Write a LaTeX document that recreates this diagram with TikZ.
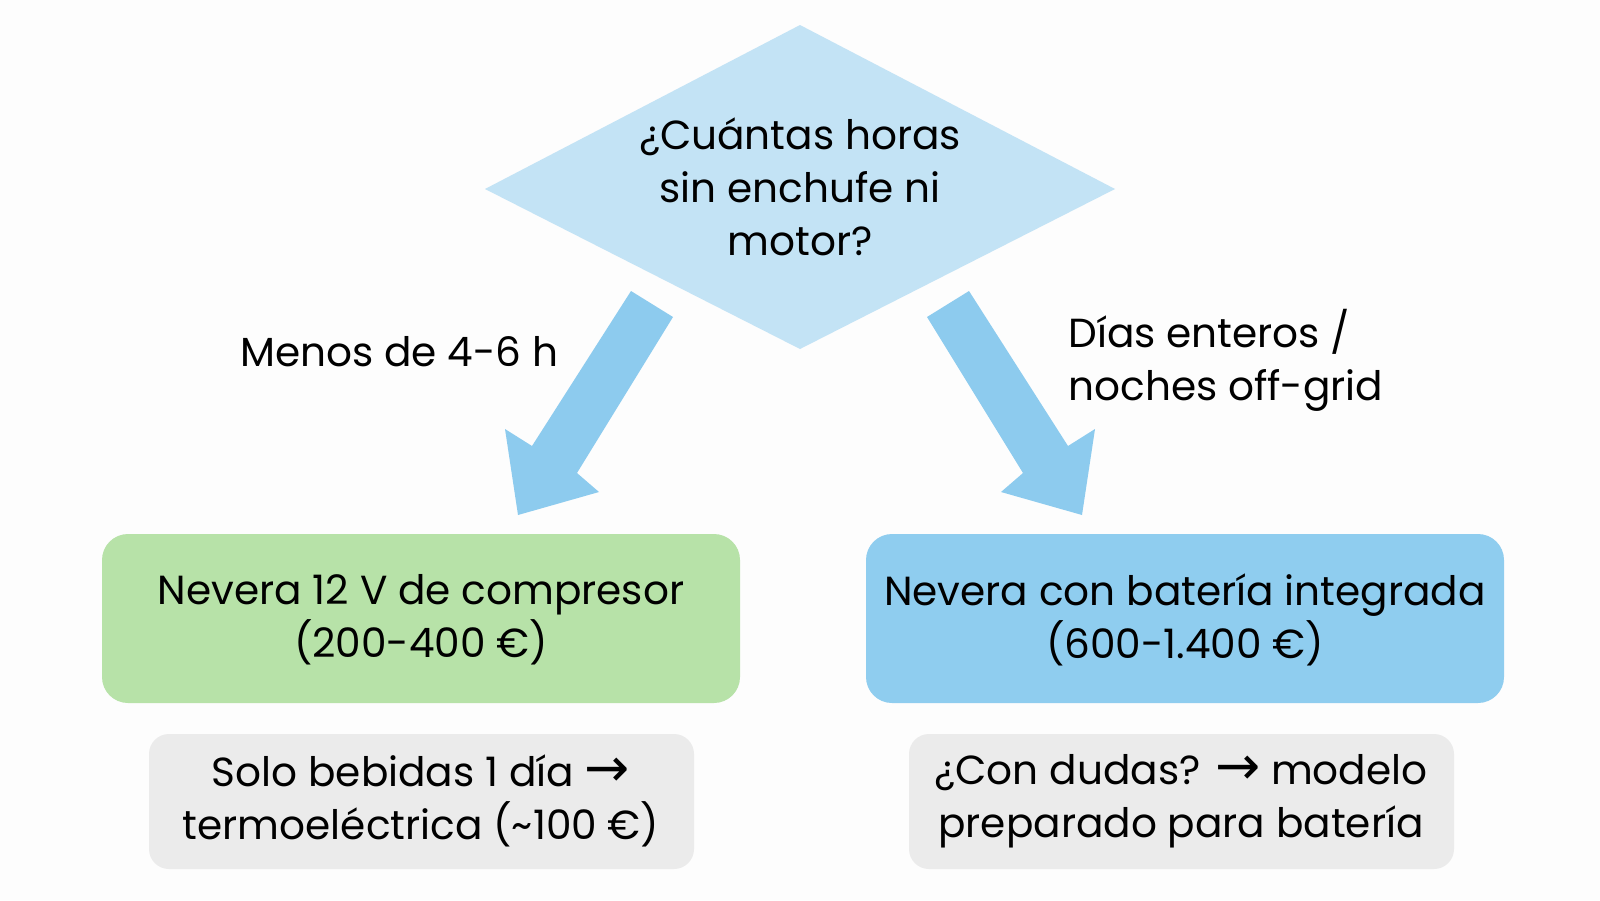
\documentclass[tikz,border=0pt]{standalone}
\usepackage{fontspec}
\setmainfont{Poppins}
\newfontfamily\symf{DejaVu Sans}
\newcommand{\rarr}{{\symf\fontsize{27}{26.5}\selectfont →}}
\definecolor{diamondc}{HTML}{C3E3F5}
\definecolor{arrowc}{HTML}{8DCBEE}
\definecolor{greenc}{HTML}{B7E2A8}
\definecolor{bluec}{HTML}{8FCDEF}
\definecolor{grayc}{HTML}{EBEBEB}
\definecolor{bgc}{HTML}{FDFDFD}
\tikzset{
  txt/.style={font=\fontsize{20.3}{26.5}\selectfont, text=black, align=center, inner sep=0},
  bigbox/.style={fill=#1, rounded corners=13pt, draw=none},
  notebox/.style={fill=grayc, rounded corners=10pt, draw=none},
  blockarrow/.style={fill=arrowc, draw=none},
}
\begin{document}
\begin{tikzpicture}[x=0.5pt,y=-0.5pt]
\useasboundingbox (0,0) rectangle (1600,900);
\fill[bgc] (0,0) rectangle (1600,900);
% diamond
\fill[diamondc] (800,25) -- (1115,189) -- (800,349) -- (485,189) -- cycle;
\node[txt] (q) at (800,187) {¿Cuántas horas\\sin enchufe ni\\motor?};
% boxes
\fill[bigbox=greenc] (102,534) rectangle (740,703);
\node[txt] (a) at (421,620) {Nevera 12 V de compresor\\(200-400 €)};
\fill[bigbox=bluec] (866,534) rectangle (1504,703);
\node[txt] (b) at (1185,620) {Nevera con batería integrada\\(600-1.400 €)};
\fill[notebox] (149,734) rectangle (694,869);
\node[txt] (na) at (421,801) {Solo bebidas 1 día \rarr\\termoeléctrica (\textasciitilde 100 €)};
\fill[notebox] (909,734) rectangle (1454,869);
\node[txt] (nb) at (1181,801) {¿Con dudas? \rarr{} modelo\\preparado para batería};
% arrows
\coordinate (l1) at (631,291); \coordinate (l2) at (673,317);
\coordinate (l3) at (577,473); \coordinate (l4) at (599,492);
\coordinate (l5) at (518,515); \coordinate (l6) at (505,429);
\coordinate (l7) at (532,446);
\fill[blockarrow] (l1) -- (l2) -- (l3) -- (l4) -- (l5) -- (l6) -- (l7) -- cycle;
\coordinate (r1) at (969,291); \coordinate (r2) at (927,317);
\coordinate (r3) at (1023,473); \coordinate (r4) at (1001,492);
\coordinate (r5) at (1082,515); \coordinate (r6) at (1095,429);
\coordinate (r7) at (1068,446);
\fill[blockarrow] (r1) -- (r2) -- (r3) -- (r4) -- (r5) -- (r6) -- (r7) -- cycle;
% labels
\node[txt, anchor=west] (ll) at (240,352) {Menos de 4-6 h};
\node[txt, anchor=west, align=left] (rl) at (1068,360) {Días enteros /\\noches off-grid};
\end{tikzpicture}
\end{document}
